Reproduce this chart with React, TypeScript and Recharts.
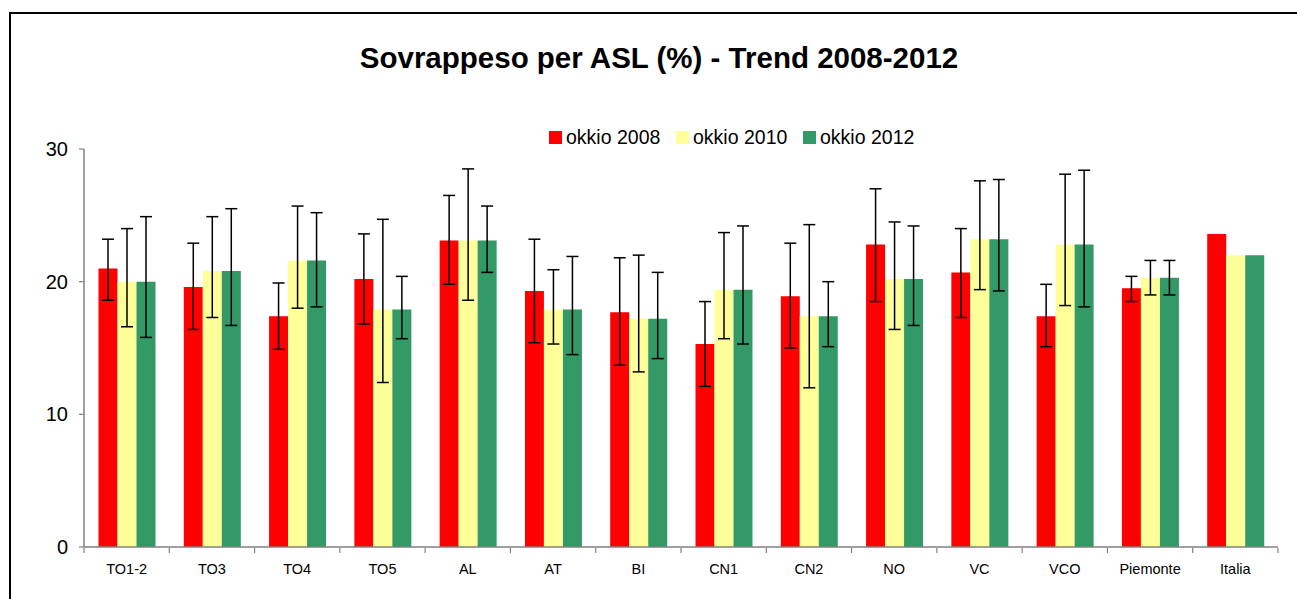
import React from 'react';
import { BarChart, Bar, XAxis, YAxis, ErrorBar } from 'recharts';

const categories = ['TO1-2', 'TO3', 'TO4', 'TO5', 'AL', 'AT', 'BI', 'CN1', 'CN2', 'NO', 'VC', 'VCO', 'Piemonte', 'Italia'];

const v2008 = [21.0, 19.6, 17.4, 20.2, 23.1, 19.3, 17.7, 15.3, 18.9, 22.8, 20.7, 17.4, 19.5, 23.6];
const lo2008 = [18.6, 16.4, 14.9, 16.8, 19.8, 15.4, 13.7, 12.1, 15.0, 18.5, 17.3, 15.1, 18.5, null];
const hi2008 = [23.2, 22.9, 19.9, 23.6, 26.5, 23.2, 21.8, 18.5, 22.9, 27.0, 24.0, 19.8, 20.4, null];

const v2010 = [20.0, 20.8, 21.6, 17.9, 23.1, 17.9, 17.2, 19.4, 17.4, 20.2, 23.2, 22.8, 20.3, 22.0];
const lo2010 = [16.6, 17.3, 18.0, 12.4, 18.6, 15.3, 13.2, 15.7, 12.0, 16.4, 19.4, 18.2, 19.0, null];
const hi2010 = [24.0, 24.9, 25.7, 24.7, 28.5, 20.9, 22.0, 23.7, 24.3, 24.5, 27.6, 28.1, 21.6, null];

const v2012 = [20.0, 20.8, 21.6, 17.9, 23.1, 17.9, 17.2, 19.4, 17.4, 20.2, 23.2, 22.8, 20.3, 22.0];
const lo2012 = [15.8, 16.7, 18.1, 15.7, 20.7, 14.5, 14.2, 15.3, 15.1, 16.7, 19.3, 18.1, 19.0, null];
const hi2012 = [24.9, 25.5, 25.2, 20.4, 25.7, 21.9, 20.7, 24.2, 20.0, 24.2, 27.7, 28.4, 21.6, null];

const yTicks = [0, 10, 20, 30];
const title = 'Sovrappeso per ASL (%) - Trend 2008-2012';

const series = [
  { key: 'a', name: 'okkio 2008', color: '#FF0000', values: v2008, lo: lo2008, hi: hi2008 },
  { key: 'b', name: 'okkio 2010', color: '#FFFF99', values: v2010, lo: lo2010, hi: hi2010 },
  { key: 'c', name: 'okkio 2012', color: '#339966', values: v2012, lo: lo2012, hi: hi2012 },
];

const data = categories.map((cat, i) => {
  const row: any = { cat, idx: i };
  series.forEach((s) => {
    row[s.key] = s.values[i];
    const lo = s.lo[i];
    const hi = s.hi[i];
    row[s.key + 'err'] = lo == null || hi == null ? null : [s.values[i] - lo, hi - s.values[i]];
  });
  return row;
});

const edgeTicks = categories.map((_, i) => i).concat([categories.length]);

const FONT = '"Liberation Sans", Arial, sans-serif';
const AXIS = '#808080';

const EmptyTick = () => <g />;

export default function App() {
  return (
    <div style={{ position: 'fixed', left: 0, top: 0, width: 1297, height: 599, overflow: 'hidden', background: '#fff', fontFamily: FONT }}>
      <div style={{ position: 'absolute', left: 9, top: 12, width: 1400, height: 700, borderLeft: '2px solid #000', borderTop: '2px solid #000' }} />
      <div style={{ position: 'absolute', left: 659, top: 43, transform: 'translateX(-50%)', whiteSpace: 'nowrap', fontSize: 29.5, lineHeight: '29.5px', fontWeight: 'bold', color: '#000' }}>
        {title}
      </div>
      <div style={{ position: 'absolute', left: 549, top: 128, display: 'flex' }}>
        {series.map((s) => (
          <div key={s.key} style={{ display: 'flex', alignItems: 'center', width: 127, height: 19 }}>
            <div style={{ width: 13, height: 13, background: s.color, marginRight: 4 }} />
            <span style={{ fontSize: 19.5, lineHeight: '19px', color: '#000', whiteSpace: 'nowrap' }}>{s.name}</span>
          </div>
        ))}
      </div>
      <div style={{ position: 'absolute', left: 0, top: 0 }}>
        <BarChart
          width={1297}
          height={599}
          data={data}
          margin={{ top: 149, right: 19, bottom: 50, left: 24 }}
          barCategoryGap="17%"
          barGap={0}
        >
          <XAxis
            xAxisId="cat"
            dataKey="cat"
            height={1}
            tickLine={false}
            tickSize={6}
            tickMargin={11}
            axisLine={{ stroke: AXIS, strokeWidth: 1.5 }}
            tick={{ fill: '#000', fontSize: 14.5, fontFamily: FONT }}
            interval={0}
          />
          <XAxis
            xAxisId="edges"
            type="number"
            dataKey="idx"
            domain={[0, categories.length]}
            ticks={edgeTicks}
            interval={0}
            tick={EmptyTick}
            tickSize={5}
            tickLine={{ stroke: AXIS, strokeWidth: 1.2 }}
            axisLine={false}
            height={1}
            allowDataOverflow
          />
          <YAxis
            width={60}
            domain={[0, 30]}
            ticks={yTicks}
            tickSize={5}
            tickMargin={11}
            axisLine={{ stroke: AXIS, strokeWidth: 1.5 }}
            tickLine={{ stroke: AXIS, strokeWidth: 1.2 }}
            tick={{ fill: '#000', fontSize: 20, fontFamily: FONT }}
          />
          {series.map((s) => (
            <Bar key={s.key} xAxisId="cat" dataKey={s.key} name={s.name} fill={s.color} isAnimationActive={false}>
              <ErrorBar dataKey={s.key + 'err'} width={6} stroke="#000" strokeWidth={1.5} direction="y" />
            </Bar>
          ))}
        </BarChart>
      </div>
    </div>
  );
}
